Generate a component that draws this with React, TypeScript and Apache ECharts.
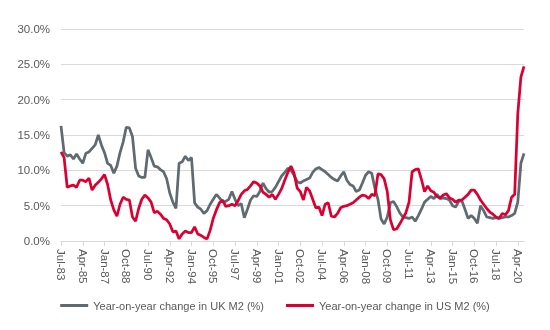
import React, { useEffect, useRef } from "react";
import * as echarts from "echarts";

// Quarterly observations, Jul-83 .. Oct-20
const MONTHS = ["Jan", "Apr", "Jul", "Oct"];
const START_YEAR = 1983;
const START_Q = 2; // Jul
const N_POINTS = 150;

const categories: string[] = [];
for (let i = 0; i < N_POINTS; i++) {
  const q = START_Q + i;
  const yr = START_YEAR + Math.floor(q / 4);
  categories.push(MONTHS[q % 4] + "-" + String(yr % 100).padStart(2, "0"));
}

const ukM2 = [
  16.3, 12.5, 12.0, 12.2, 11.6, 12.3, 11.6, 11.0, 12.4, 12.6,
  13.1, 13.6, 15.0, 13.6, 12.5, 11.0, 10.7, 9.6, 10.6, 12.5,
  14.0, 16.1, 16.0, 14.8, 10.3, 9.2, 9.0, 9.0, 12.9, 11.8,
  10.6, 10.5, 10.1, 9.8, 8.8, 6.8, 5.5, 4.6, 11.0, 11.2,
  12.0, 11.4, 11.8, 5.4, 4.8, 4.5, 3.9, 4.3, 5.2, 5.9,
  6.6, 6.1, 5.5, 5.6, 5.9, 7.0, 5.9, 5.0, 5.3, 3.3,
  4.5, 5.8, 6.4, 6.3, 7.0, 8.2, 7.4, 6.9, 7.0, 7.6,
  8.4, 9.2, 9.7, 10.3, 10.0, 9.3, 8.4, 8.2, 8.5, 8.7,
  8.9, 9.7, 10.2, 10.4, 10.1, 9.8, 9.4, 9.0, 8.7, 8.5,
  9.2, 9.8, 8.6, 8.0, 7.8, 7.0, 7.2, 8.2, 9.3, 9.8,
  9.6, 7.5, 5.9, 3.1, 2.4, 3.4, 5.4, 5.6, 4.9, 4.0,
  3.4, 3.3, 3.2, 3.4, 2.8, 3.6, 4.5, 5.5, 5.9, 6.3,
  6.0, 6.6, 6.0, 6.1, 6.0, 5.8, 5.0, 4.8, 5.6, 5.7,
  4.5, 3.2, 3.6, 3.2, 2.5, 5.0, 4.3, 3.4, 3.3, 3.2,
  3.3, 3.2, 3.3, 3.4, 3.4, 3.6, 3.9, 5.5, 11.0, 12.4,
];

const usM2 = [
  12.6, 11.8, 7.6, 7.8, 7.9, 7.6, 8.6, 8.6, 8.4, 8.9,
  7.2, 7.9, 8.3, 8.8, 9.4, 8.0, 5.8, 4.4, 3.5, 5.2,
  6.2, 5.9, 5.8, 3.4, 2.8, 4.6, 5.9, 6.5, 6.1, 5.5,
  4.0, 4.2, 3.8, 3.2, 3.0, 2.4, 1.3, 1.4, 0.3, 1.0,
  1.4, 1.2, 1.2, 2.0, 1.0, 0.8, 0.5, 0.3, 1.5, 3.2,
  4.4, 5.4, 5.8, 4.9, 5.0, 5.2, 5.0, 5.7, 6.6, 7.1,
  7.3, 7.8, 8.4, 8.2, 7.8, 6.9, 6.6, 6.2, 6.6, 5.9,
  6.6, 7.4, 8.6, 9.7, 10.6, 9.6, 7.5, 7.0, 5.8, 7.6,
  7.1, 5.9, 4.7, 4.8, 3.6, 5.2, 5.4, 3.5, 3.4, 3.9,
  4.7, 4.9, 5.0, 5.2, 5.4, 5.8, 6.2, 6.5, 6.4, 6.0,
  6.6, 6.4, 9.5, 9.4, 8.8, 7.0, 3.0, 1.6, 1.7, 2.4,
  3.2, 4.0, 5.5, 9.8, 10.1, 10.2, 8.7, 7.0, 7.8, 7.1,
  6.9, 6.3, 6.1, 6.5, 6.7, 6.1, 5.9, 5.5, 5.8, 5.8,
  6.2, 6.6, 7.2, 7.2, 6.6, 5.8, 5.2, 4.6, 4.1, 3.8,
  3.4, 3.2, 3.9, 3.7, 4.3, 6.2, 6.6, 18.0, 23.2, 24.7,
];

const SERIES_NAMES = [
  "Year-on-year change in UK M2 (%)",
  "Year-on-year change in US M2 (%)",
];

const FONT = "'Liberation Sans', Arial, sans-serif";

export default function App() {
  const ref = useRef<HTMLDivElement>(null);
  useEffect(() => {
    if (!ref.current) return;
    const chart = echarts.init(ref.current, undefined, { renderer: "svg" });
    chart.setOption({
      animation: false,
      textStyle: { fontFamily: FONT },
      grid: { left: 61, right: 26, top: 29, bottom: 89 },
      legend: {
        bottom: 14,
        left: "center",
        icon: "rect",
        itemWidth: 28,
        itemHeight: 3,
        itemGap: 22,
        textStyle: { color: "#595959", fontSize: 11, fontFamily: FONT },
        data: SERIES_NAMES,
      },
      xAxis: {
        type: "category",
        data: categories,
        boundaryGap: false,
        axisLine: { lineStyle: { color: "#d9d9d9" } },
        axisTick: { show: true, interval: 6, length: 5, lineStyle: { color: "#d9d9d9" } },
        axisLabel: {
          interval: 6,
          rotate: -90,
          color: "#595959",
          fontSize: 11.5,
          fontFamily: FONT,
          margin: 8,
        },
      },
      yAxis: {
        type: "value",
        min: 0,
        max: 30,
        interval: 5,
        axisLine: { show: false },
        axisTick: { show: false },
        splitLine: { lineStyle: { color: "#d9d9d9", width: 1 } },
        axisLabel: {
          formatter: (v: number) => v.toFixed(1) + "%",
          color: "#595959",
          fontSize: 11.5,
          fontFamily: FONT,
          margin: 11,
        },
      },
      series: [
        {
          name: SERIES_NAMES[0],
          type: "line",
          data: ukM2,
          showSymbol: false,
          symbol: "none",
          lineStyle: { color: "#5f6a71", width: 2.75 },
          itemStyle: { color: "#5f6a71" },
        },
        {
          name: SERIES_NAMES[1],
          type: "line",
          data: usM2,
          showSymbol: false,
          symbol: "none",
          lineStyle: { color: "#dc0032", width: 2.75 },
          itemStyle: { color: "#dc0032" },
        },
      ],
    });
    return () => chart.dispose();
  }, []);
  return (
    <div
      ref={ref}
      style={{ position: "fixed", left: 0, top: 0, width: 550, height: 330 }}
    />
  );
}
